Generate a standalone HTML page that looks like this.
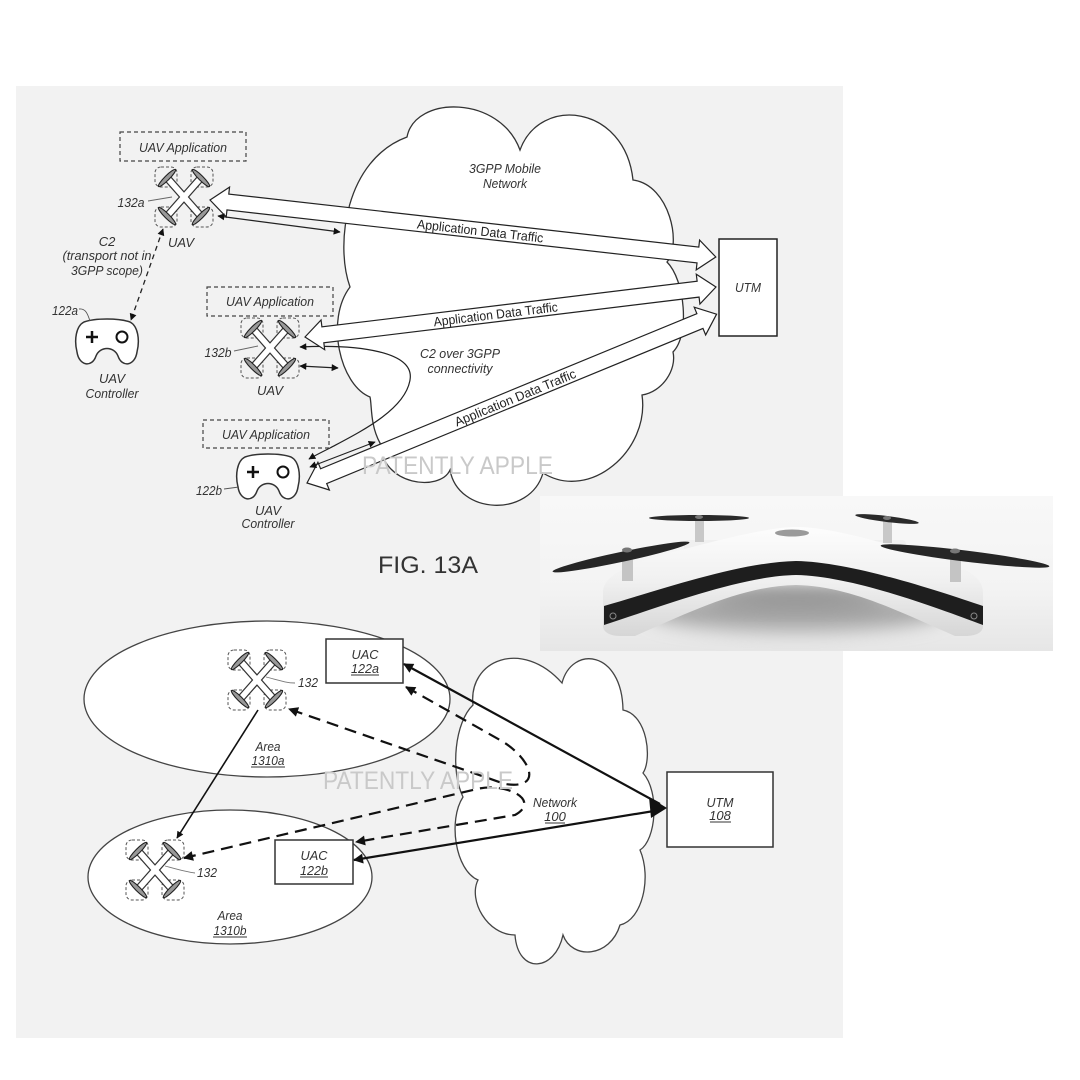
<!DOCTYPE html>
<html>
<head>
<meta charset="utf-8">
<style>
html,body{margin:0;padding:0;background:#fff;}
svg{display:block;}
.t{font-family:"Liberation Sans",sans-serif;font-style:italic;font-size:13px;fill:#333;}
.u{font-family:"Liberation Sans",sans-serif;font-size:13px;fill:#222;}
.wm{font-family:"Liberation Sans",sans-serif;font-size:25px;fill:#c9c9c9;font-weight:normal;}
</style>
</head>
<body>
<svg width="1080" height="1080" viewBox="0 0 1080 1080" xmlns="http://www.w3.org/2000/svg">
<defs>
  <marker id="ah" viewBox="0 0 10 10" refX="9" refY="5" markerWidth="9" markerHeight="7" markerUnits="userSpaceOnUse" orient="auto-start-reverse">
    <path d="M0,0 L10,5 L0,10 z" fill="#111"/>
  </marker>
  <marker id="ahb" viewBox="0 0 10 10" refX="9" refY="5" markerWidth="14" markerHeight="10" markerUnits="userSpaceOnUse" orient="auto-start-reverse">
    <path d="M0,0 L10,5 L0,10 z" fill="#111"/>
  </marker>
  <g id="drone">
    <g fill="none" stroke="#555" stroke-width="1" stroke-dasharray="3,2">
      <rect x="-29" y="-30" width="22" height="20" rx="6"/>
      <rect x="7" y="-30" width="22" height="20" rx="6"/>
      <rect x="-29" y="10" width="22" height="20" rx="6"/>
      <rect x="7" y="10" width="22" height="20" rx="6"/>
    </g>
    <g stroke="#333" stroke-width="8" stroke-linecap="round">
      <line x1="0" y1="0" x2="-15" y2="-17"/><line x1="0" y1="0" x2="15" y2="-17"/>
      <line x1="0" y1="0" x2="-15" y2="17"/><line x1="0" y1="0" x2="15" y2="17"/>
    </g>
    <g stroke="#fff" stroke-width="5.5" stroke-linecap="round">
      <line x1="0" y1="0" x2="-15" y2="-17"/><line x1="0" y1="0" x2="15" y2="-17"/>
      <line x1="0" y1="0" x2="-15" y2="17"/><line x1="0" y1="0" x2="15" y2="17"/>
    </g>
    <g fill="#999" stroke="#222" stroke-width="1.1">
      <ellipse cx="0" cy="0" rx="12" ry="2.3" transform="translate(-17,-19) rotate(-45)"/>
      <ellipse cx="0" cy="0" rx="12" ry="2.3" transform="translate(17,-19) rotate(45)"/>
      <ellipse cx="0" cy="0" rx="12" ry="2.3" transform="translate(-17,19) rotate(45)"/>
      <ellipse cx="0" cy="0" rx="12" ry="2.3" transform="translate(17,19) rotate(-45)"/>
    </g>
  </g>
  <g id="ctrl">
    <path d="M -23,-21 C -12,-25 12,-25 23,-21 C 31,-17 33,-3 30,9 C 28,23 15,25 11,13 C 7,3 -7,3 -11,13 C -15,25 -28,23 -30,9 C -33,-3 -31,-17 -23,-21 Z" fill="#fff" stroke="#333" stroke-width="1.5"/>
    <path d="M-21,-6 L-9,-6 M-15,-12 L-15,0" stroke="#111" stroke-width="2.5"/>
    <circle cx="15" cy="-6" r="5.5" fill="none" stroke="#111" stroke-width="2"/>
  </g>
  <linearGradient id="pbg" x1="0" y1="0" x2="0" y2="1">
    <stop offset="0" stop-color="#f8f8f8"/>
    <stop offset="0.6" stop-color="#f3f3f3"/>
    <stop offset="1" stop-color="#e6e6e6"/>
  </linearGradient>
  <linearGradient id="bodyg" x1="0" y1="0" x2="0" y2="1">
    <stop offset="0" stop-color="#fdfdfd"/>
    <stop offset="0.5" stop-color="#f0f0f0"/>
    <stop offset="1" stop-color="#d6d6d6"/>
  </linearGradient>
  <filter id="blur" x="-50%" y="-50%" width="200%" height="200%"><feGaussianBlur stdDeviation="9"/></filter>
  <clipPath id="pclip"><rect x="540" y="496" width="513" height="155"/></clipPath>
</defs>

<!-- panel -->
<rect x="16" y="86" width="827" height="952" fill="#f2f2f2"/>

<!-- ============ TOP DIAGRAM ============ -->
<path d="M407,137 C415,95 500,95 520,150 C540,95 625,105 633,180 C670,185 682,245 667,262 C685,280 690,335 673,352 C677,370 662,392 642,395 C650,450 590,502 543,473 C530,518 458,515 450,470 C440,492 382,486 380,443 C370,425 372,405 370,397 C340,385 325,320 350,287 C335,245 345,160 407,137 Z" fill="#fff" stroke="#333" stroke-width="1.3"/>

<text class="t" x="505" y="173" text-anchor="middle" textLength="72" lengthAdjust="spacingAndGlyphs">3GPP Mobile</text>
<text class="t" x="505" y="188" text-anchor="middle" textLength="44" lengthAdjust="spacingAndGlyphs">Network</text>
<text class="t" x="460" y="358" text-anchor="middle" textLength="80" lengthAdjust="spacingAndGlyphs">C2 over 3GPP</text>
<text class="t" x="460" y="373" text-anchor="middle" textLength="65" lengthAdjust="spacingAndGlyphs">connectivity</text>

<path d="M300,347 C360,344 415,352 410,380 C405,410 360,432 330,448 C322,452 314,456 309,459" fill="none" stroke="#222" stroke-width="1.2" marker-start="url(#ah)" marker-end="url(#ah)"/>

<g transform="translate(210,200) rotate(6.43)">
  <polygon points="0,0 18,-15 18,-8 491,-8 491,-15 509,0 491,15 491,8 18,8 18,15" fill="#fff" stroke="#222" stroke-width="1.2"/>
  <text class="u" x="272" y="5" text-anchor="middle" textLength="127" lengthAdjust="spacingAndGlyphs">Application Data Traffic</text>
</g>
<g transform="translate(305,337) rotate(-6.94)">
  <polygon points="0,0 18,-15 18,-8 396,-8 396,-15 414,0 396,15 396,8 18,8 18,15" fill="#fff" stroke="#222" stroke-width="1.2"/>
  <text class="u" x="192" y="5" text-anchor="middle" textLength="125" lengthAdjust="spacingAndGlyphs">Application Data Traffic</text>
</g>
<g transform="translate(307,483) rotate(-22.4)">
  <polygon points="0,0 18,-15 18,-8 425,-8 425,-15 443,0 425,15 425,8 18,8 18,15" fill="#fff" stroke="#222" stroke-width="1.2"/>
  <text class="u" x="225" y="5" text-anchor="middle" textLength="130" lengthAdjust="spacingAndGlyphs">Application Data Traffic</text>
</g>

<line x1="218" y1="216" x2="340" y2="232" stroke="#222" stroke-width="1.2" marker-start="url(#ah)" marker-end="url(#ah)"/>
<line x1="300" y1="366" x2="338" y2="368" stroke="#222" stroke-width="1.2" marker-start="url(#ah)" marker-end="url(#ah)"/>
<line x1="310" y1="467" x2="375" y2="442" stroke="#222" stroke-width="1.2" marker-start="url(#ah)" marker-end="url(#ah)"/>

<rect x="719" y="239" width="58" height="97" fill="#fff" stroke="#222" stroke-width="1.5"/>
<text class="t" x="748" y="292" text-anchor="middle" textLength="26" lengthAdjust="spacingAndGlyphs">UTM</text>

<rect x="120" y="132" width="126" height="29" fill="none" stroke="#444" stroke-width="1.2" stroke-dasharray="4,3"/>
<text class="t" x="183" y="152" text-anchor="middle" textLength="88" lengthAdjust="spacingAndGlyphs">UAV Application</text>
<rect x="207" y="287" width="126" height="29" fill="none" stroke="#444" stroke-width="1.2" stroke-dasharray="4,3"/>
<text class="t" x="270" y="306" text-anchor="middle" textLength="88" lengthAdjust="spacingAndGlyphs">UAV Application</text>
<rect x="203" y="420" width="126" height="28" fill="none" stroke="#444" stroke-width="1.2" stroke-dasharray="4,3"/>
<text class="t" x="266" y="439" text-anchor="middle" textLength="88" lengthAdjust="spacingAndGlyphs">UAV Application</text>

<use href="#drone" transform="translate(184,197)"/>
<use href="#drone" transform="translate(270,348)"/>
<path d="M148,201 L172,197" stroke="#666" stroke-width="0.9"/>
<text class="t" x="131" y="207" text-anchor="middle" textLength="27" lengthAdjust="spacingAndGlyphs">132a</text>
<text class="t" x="181" y="247" text-anchor="middle">UAV</text>
<path d="M234,351 L258,346" stroke="#666" stroke-width="0.9"/>
<text class="t" x="218" y="357" text-anchor="middle" textLength="27" lengthAdjust="spacingAndGlyphs">132b</text>
<text class="t" x="270" y="395" text-anchor="middle">UAV</text>

<line x1="163" y1="229" x2="131" y2="320" stroke="#222" stroke-width="1.3" stroke-dasharray="5,4" marker-start="url(#ah)" marker-end="url(#ah)"/>
<text class="t" x="107" y="246" text-anchor="middle">C2</text>
<text class="t" x="107" y="260" text-anchor="middle" textLength="89" lengthAdjust="spacingAndGlyphs">(transport not in</text>
<text class="t" x="107" y="275" text-anchor="middle" textLength="72" lengthAdjust="spacingAndGlyphs">3GPP scope)</text>

<use href="#ctrl" transform="translate(107,343)"/>
<path d="M79,309 C86,308 88,315 90,321" fill="none" stroke="#555" stroke-width="0.9"/>
<text class="t" x="65" y="315" text-anchor="middle" textLength="26" lengthAdjust="spacingAndGlyphs">122a</text>
<text class="t" x="112" y="383" text-anchor="middle">UAV</text>
<text class="t" x="112" y="398" text-anchor="middle" textLength="53" lengthAdjust="spacingAndGlyphs">Controller</text>

<use href="#ctrl" transform="translate(268,478)"/>
<path d="M224,489 L239,487" fill="none" stroke="#555" stroke-width="0.9"/>
<text class="t" x="209" y="495" text-anchor="middle" textLength="26" lengthAdjust="spacingAndGlyphs">122b</text>
<text class="t" x="268" y="515" text-anchor="middle">UAV</text>
<text class="t" x="268" y="528" text-anchor="middle" textLength="53" lengthAdjust="spacingAndGlyphs">Controller</text>

<text class="wm" x="362" y="474" textLength="191" lengthAdjust="spacingAndGlyphs">PATENTLY APPLE</text>

<text x="428" y="573" text-anchor="middle" font-family="Liberation Sans, sans-serif" font-size="24" fill="#333" textLength="100" lengthAdjust="spacingAndGlyphs">FIG. 13A</text>

<!-- ============ BOTTOM DIAGRAM ============ -->
<ellipse cx="267" cy="699" rx="183" ry="78" fill="#fff" stroke="#444" stroke-width="1.3"/>
<ellipse cx="230" cy="877" rx="142" ry="67" fill="#fff" stroke="#444" stroke-width="1.3"/>

<path d="M473,705 C468,660 522,638 562,683 C572,645 622,650 623,710 C648,715 652,760 643,773 C660,792 656,840 640,850 C652,878 642,920 620,925 C610,958 572,960 563,935 C555,972 518,975 515,935 C487,935 468,900 478,880 C455,870 448,820 463,797 C450,770 455,722 473,705 Z" fill="#fff" stroke="#444" stroke-width="1.3"/>

<text class="t" x="555" y="807" text-anchor="middle" textLength="44" lengthAdjust="spacingAndGlyphs">Network</text>
<text class="t" x="555" y="821" text-anchor="middle">100</text>
<line x1="545" y1="823" x2="565" y2="823" stroke="#333" stroke-width="0.9"/>

<rect x="326" y="639" width="77" height="44" fill="#fff" stroke="#333" stroke-width="1.5"/>
<text class="t" x="365" y="659" text-anchor="middle" textLength="27" lengthAdjust="spacingAndGlyphs">UAC</text>
<text class="t" x="365" y="673" text-anchor="middle" textLength="28" lengthAdjust="spacingAndGlyphs">122a</text>
<line x1="351" y1="675" x2="379" y2="675" stroke="#333" stroke-width="0.9"/>

<rect x="275" y="840" width="78" height="44" fill="#fff" stroke="#333" stroke-width="1.5"/>
<text class="t" x="314" y="860" text-anchor="middle" textLength="27" lengthAdjust="spacingAndGlyphs">UAC</text>
<text class="t" x="314" y="875" text-anchor="middle" textLength="28" lengthAdjust="spacingAndGlyphs">122b</text>
<line x1="300" y1="877" x2="328" y2="877" stroke="#333" stroke-width="0.9"/>

<rect x="667" y="772" width="106" height="75" fill="#fff" stroke="#333" stroke-width="1.5"/>
<text class="t" x="720" y="807" text-anchor="middle" textLength="27" lengthAdjust="spacingAndGlyphs">UTM</text>
<text class="t" x="720" y="820" text-anchor="middle">108</text>
<line x1="710" y1="822" x2="731" y2="822" stroke="#333" stroke-width="0.9"/>

<use href="#drone" transform="translate(257,680)"/>
<use href="#drone" transform="translate(155,870)"/>
<path d="M266,677 C278,680 286,683 295,683" fill="none" stroke="#777" stroke-width="0.9"/>
<text class="t" x="298" y="687" textLength="20" lengthAdjust="spacingAndGlyphs">132</text>
<path d="M165,866 C176,869 186,872 195,873" fill="none" stroke="#777" stroke-width="0.9"/>
<text class="t" x="197" y="877" textLength="20" lengthAdjust="spacingAndGlyphs">132</text>

<text class="t" x="268" y="751" text-anchor="middle" textLength="25" lengthAdjust="spacingAndGlyphs">Area</text>
<text class="t" x="268" y="765" text-anchor="middle" textLength="33" lengthAdjust="spacingAndGlyphs">1310a</text>
<line x1="251" y1="767" x2="285" y2="767" stroke="#333" stroke-width="0.9"/>
<text class="t" x="230" y="920" text-anchor="middle" textLength="25" lengthAdjust="spacingAndGlyphs">Area</text>
<text class="t" x="230" y="935" text-anchor="middle" textLength="33" lengthAdjust="spacingAndGlyphs">1310b</text>
<line x1="213" y1="937" x2="247" y2="937" stroke="#333" stroke-width="0.9"/>

<line x1="258" y1="710" x2="177" y2="838" stroke="#111" stroke-width="1.6" marker-end="url(#ah)"/>
<line x1="404" y1="664" x2="660" y2="804" stroke="#111" stroke-width="2.2" marker-start="url(#ahb)"/>
<line x1="354" y1="860" x2="660" y2="810" stroke="#111" stroke-width="2.2" marker-start="url(#ahb)"/>
<path d="M667,808 L649,797 L651,818 Z" fill="#111"/>

<path d="M406,687 L500,740 C530,757 545,790 505,784 L289,709" fill="none" stroke="#111" stroke-width="2.2" stroke-dasharray="12,7" marker-start="url(#ahb)" marker-end="url(#ahb)"/>
<path d="M184,858 L477,789 C505,782 542,800 515,815 L356,842" fill="none" stroke="#111" stroke-width="2.2" stroke-dasharray="12,7" marker-start="url(#ahb)" marker-end="url(#ahb)"/>

<text class="wm" x="323" y="789" textLength="190" lengthAdjust="spacingAndGlyphs">PATENTLY APPLE</text>

<!-- ============ PHOTO ============ -->
<g clip-path="url(#pclip)">
  <rect x="540" y="496" width="513" height="155" fill="url(#pbg)"/>
  <ellipse cx="796" cy="612" rx="150" ry="20" fill="#a8a8a8" filter="url(#blur)"/>
  <ellipse cx="796" cy="598" rx="90" ry="12" fill="#959595" filter="url(#blur)"/>
  <rect x="684" y="540" width="36" height="14" rx="4" fill="#f0f0f0"/>
  <rect x="870" y="540" width="36" height="14" rx="4" fill="#f0f0f0"/>
  <rect x="695" y="518" width="9" height="24" fill="#c8c8c8"/>
  <rect x="883" y="519" width="9" height="24" fill="#c8c8c8"/>
  <ellipse cx="699" cy="518" rx="50" ry="3" fill="#2a2a2a"/>
  <ellipse cx="887" cy="519" rx="32" ry="3" fill="#2a2a2a" transform="rotate(7 887 519)"/>
  <ellipse cx="699" cy="517" rx="4" ry="2" fill="#777"/>
  <ellipse cx="887" cy="518" rx="4" ry="2" fill="#777"/>
  <path d="M603,592 C603,572 640,560 700,545 C750,532 780,527 796,527 C815,527 845,532 890,545 C950,560 983,572 983,592 L983,626 C983,633 975,636 965,636 L955,636 C900,612 850,586 796,585 C742,586 690,612 635,636 L620,636 C610,636 603,632 603,626 Z" fill="url(#bodyg)"/>
  <path d="M604,606 C660,590 740,562 796,561 C852,562 935,590 983,606 L983,625 C935,607 852,576 796,575 C740,576 660,607 604,625 Z" fill="#1e1e1e"/>
  <circle cx="613" cy="616" r="3" fill="none" stroke="#888" stroke-width="1"/>
  <circle cx="974" cy="616" r="3" fill="none" stroke="#888" stroke-width="1"/>
  <ellipse cx="792" cy="533" rx="17" ry="3.5" fill="#9a9a9a"/>
  <rect x="622" y="551" width="11" height="30" fill="#c4c4c4"/>
  <rect x="950" y="552" width="11" height="30" fill="#c4c4c4"/>
  <ellipse cx="621" cy="557" rx="70" ry="5" fill="#262626" transform="rotate(-12 621 557)"/>
  <ellipse cx="965" cy="556" rx="85" ry="5.5" fill="#262626" transform="rotate(7 965 556)"/>
  <ellipse cx="627" cy="550" rx="5" ry="2.5" fill="#777"/>
  <ellipse cx="955" cy="551" rx="5" ry="2.5" fill="#777"/>
</g>
</svg>
</body>
</html>
